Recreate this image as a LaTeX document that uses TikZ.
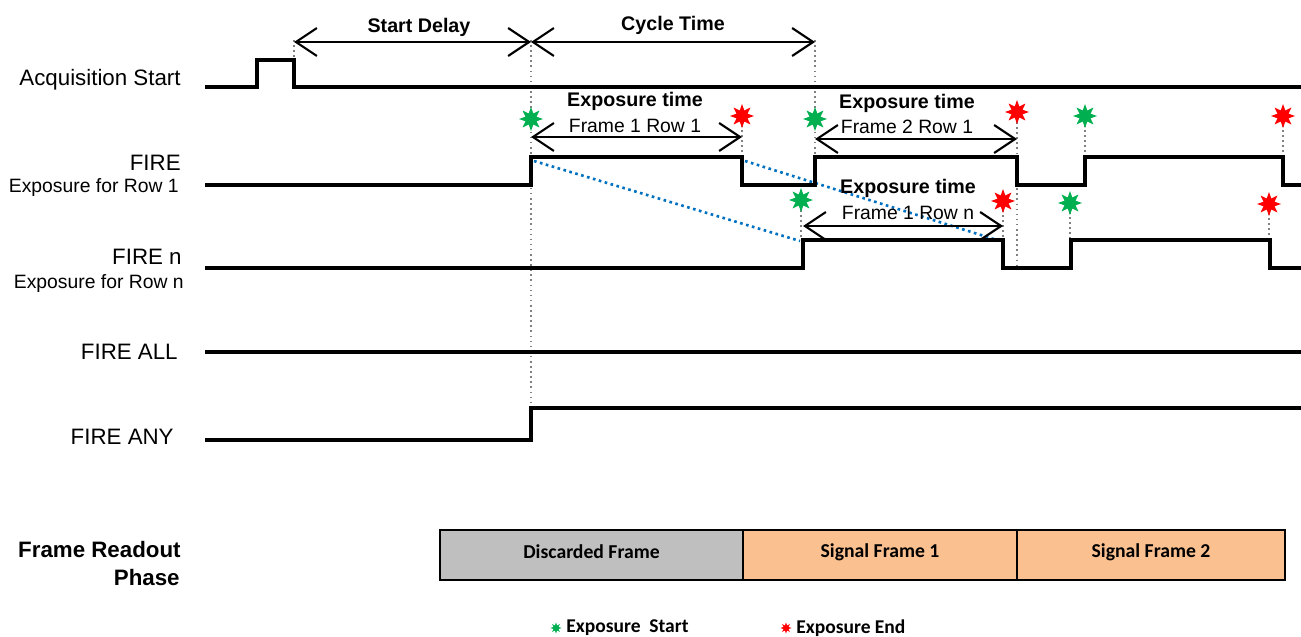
\documentclass[tikz,border=0pt]{standalone}
\usepackage{fontspec}
\setmainfont{Liberation Sans}
\newfontfamily\calibri{Carlito}
\usetikzlibrary{arrows.meta,shapes.geometric}
\definecolor{startgreen}{RGB}{0,176,80}
\definecolor{endred}{RGB}{255,0,0}
\definecolor{skewblue}{RGB}{0,112,192}
\definecolor{discardgray}{RGB}{191,191,191}
\definecolor{signalorange}{RGB}{250,192,144}
\tikzset{
  signal/.style={line width=2pt, line join=miter},
  marker/.style={gray, dotted, line width=0.9pt},
  skew/.style={skewblue, dotted, line width=1.5pt},
  span/.style={{Straight Barb[length=0.42cm,width=0.56cm]}-{Straight Barb[length=0.42cm,width=0.56cm]}, line width=1.2pt},
  expstart/.style={star, star points=8, star point ratio=2, fill=startgreen, inner sep=0pt, minimum size=0.48cm},
  expend/.style={expstart, fill=endred},
  lbl/.style={anchor=east, inner sep=0pt, font=\fontsize{12.7}{15}\selectfont},
  sublbl/.style={anchor=east, inner sep=0pt, font=\fontsize{11}{13}\selectfont},
  head/.style={inner sep=0pt, font=\bfseries\fontsize{11.2}{13}\selectfont},
  sub/.style={inner sep=0pt, font=\fontsize{11}{13}\selectfont},
  phase/.style={draw, line width=1.4pt},
  phasetxt/.style={inner sep=0pt, font=\calibri\bfseries\fontsize{11.2}{13}\selectfont},
  legend/.style={anchor=west, inner sep=0pt, font=\calibri\bfseries\fontsize{11.1}{13}\selectfont}
}
\begin{document}
\begin{tikzpicture}[x=0.02cm, y=-0.02cm]
    \useasboundingbox (0,0) rectangle (1301,636);
    \draw [marker] (294,40) -- (294,60);
    \draw [marker] (531,40) -- (531,440);
    \draw [marker] (815,40) -- (815,157);
    \draw [marker] (742,125) -- (742,157);
    \draw [marker] (1017,122) -- (1017,268);
    \draw [marker] (1085,125) -- (1085,157);
    \draw [marker] (1283,125) -- (1283,157);
    \draw [marker] (801,210) -- (801,240);
    \draw [marker] (1003,210) -- (1003,240);
    \draw [marker] (1070,212) -- (1070,240);
    \draw [marker] (1269,213) -- (1269,240);
    \draw [skew] (534,161) -- (800,241);
    \draw [skew] (745,161) -- (1000,241);
    \draw [signal] (205,87) -- (257,87) -- (257,60) -- (294,60) -- (294,87) -- (1301,87);
    \draw [signal] (205,185) -- (531,185) -- (531,157) -- (742,157) -- (742,185) -- (815,185) -- (815,157) -- (1017,157) -- (1017,185) -- (1085,185) -- (1085,157) -- (1283,157) -- (1283,185) -- (1301,185);
    \draw [signal] (205,268) -- (803,268) -- (803,240) -- (1003,240) -- (1003,268) -- (1071,268) -- (1071,240) -- (1270,240) -- (1270,268) -- (1301,268);
    \draw [signal] (205,352) -- (1301,352);
    \draw [signal] (205,440) -- (531,440) -- (531,408) -- (1301,408);
    \coordinate (acq) at (294,42);
    \coordinate (trig) at (531,42);
    \coordinate (cyc) at (815,42);
    \draw [span] (acq) -- (trig);
    \draw [span] (trig) -- (cyc);
    \node [head] (delay) at (419,27) {Start Delay};
    \node [head] (cycle) at (673,25) {Cycle Time};
    \coordinate (e1a) at (531,137);
    \coordinate (e1b) at (742,137);
    \coordinate (e2a) at (815,139);
    \coordinate (e2b) at (1017,139);
    \coordinate (ena) at (803,226);
    \coordinate (enb) at (1003,226);
    \draw [span] (e1a) -- (e1b);
    \draw [span] (e2a) -- (e2b);
    \draw [span] (ena) -- (enb);
    \node [head] (exp1) at (635,101) {Exposure time};
    \node [sub] (row1) at (635,126) {Frame 1 Row 1};
    \node [head] (exp2) at (907,103) {Exposure time};
    \node [sub] (row2) at (907,127) {Frame 2 Row 1};
    \node [head] (expn) at (908,188) {Exposure time};
    \node [sub] (rown) at (908,213) {Frame 1 Row n};
    \node [expstart] (s1) at (531,119) {};
    \node [expend] (f1) at (742,116) {};
    \node [expstart] (s2) at (815,119) {};
    \node [expend] (f2) at (1017,112) {};
    \node [expstart] (s3) at (1085,116) {};
    \node [expend] (f3) at (1283,116) {};
    \node [expstart] (sn1) at (801,200) {};
    \node [expend] (fn1) at (1003,201) {};
    \node [expstart] (sn2) at (1070,203) {};
    \node [expend] (fn2) at (1269,204) {};
    \node [lbl] (acqlbl) at (181,80) {Acquisition Start};
    \node [lbl] (fire) at (181,163) {FIRE};
    \node [sublbl] (firesub) at (179,188) {Exposure for Row 1};
    \node [lbl] (firen) at (182,257) {FIRE n};
    \node [sublbl] (firensub) at (184,284) {Exposure for Row n};
    \node [lbl] (fireall) at (178,352) {FIRE ALL};
    \node [lbl] (fireany) at (174,437) {FIRE ANY};
    \node [lbl, font=\bfseries\fontsize{12.7}{15}\selectfont] (readout) at (181,550) {Frame Readout};
    \node [lbl, font=\bfseries\fontsize{12.7}{15}\selectfont] (phaselbl) at (180,578) {Phase};
    \draw [phase, fill=discardgray] (440,530) rectangle (743,580);
    \draw [phase, fill=signalorange] (743,530) rectangle (1017,580);
    \draw [phase, fill=signalorange] (1017,530) rectangle (1285,580);
    \node [phasetxt] (discard) at (591.5,552) {Discarded Frame};
    \node [phasetxt] (frame1) at (880,552) {Signal Frame 1};
    \node [phasetxt] (frame2) at (1151,552) {Signal Frame 2};
    \node [expstart, minimum size=0.22cm] (keystart) at (556,628) {};
    \node [legend] (keystarttxt) at (566,628) {Exposure\ \ Start};
    \node [expend, minimum size=0.22cm] (keyend) at (786,628) {};
    \node [legend] (keyendtxt) at (796,628) {Exposure End};
\end{tikzpicture}
\end{document}
